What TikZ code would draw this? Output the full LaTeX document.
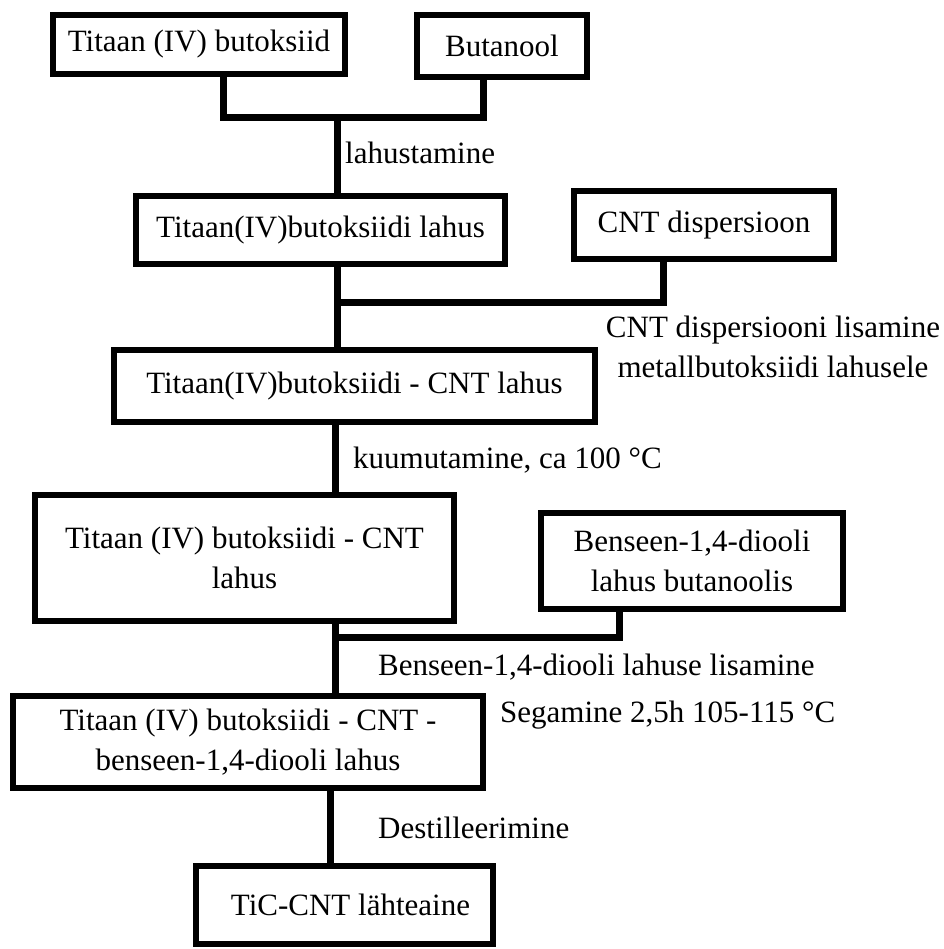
\documentclass[tikz,border=0pt]{standalone}
\usepackage{fontspec}
\setmainfont{Liberation Serif}
\usetikzlibrary{calc}

\begin{document}
\begin{tikzpicture}[x=1pt,y=-1pt,
  font=\fontsize{31}{40}\selectfont,
  box/.style={draw,line width=6pt,inner sep=0pt,align=center,fill=white,
    execute at begin node={\vspace*{9pt}}},
  link/.style={line width=7pt},
  step label/.style={anchor=west,inner sep=0pt}]
  \useasboundingbox (0,0) rectangle (943,949);
  \node[box,minimum width=292,minimum height=59] (tib) at (199,44.5) {Titaan (IV) butoksiid};
  \node[box,minimum width=170,minimum height=62] (buol) at (502,46) {Butanool};
  \node[box,minimum width=369,minimum height=68] (tibl) at (320.5,230) {Titaan(IV)butoksiidi lahus};
  \node[box,minimum width=260,minimum height=68] (cnt) at (704,225) {CNT dispersioon};
  \node[box,minimum width=481,minimum height=72] (tcl) at (354.5,386) {Titaan(IV)butoksiidi - CNT lahus};
  \node[box,minimum width=419,minimum height=126] (tcl2) at (244.5,558) {Titaan (IV) butoksiidi - CNT\\lahus};
  \node[box,minimum width=302,minimum height=96] (bdl) at (692,561) {Benseen-1,4-diooli\\lahus butanoolis};
  \node[box,minimum width=470,minimum height=92] (tcbl) at (248,742) {Titaan (IV) butoksiidi - CNT -\\benseen-1,4-diooli lahus};
  \node[box,minimum width=297,minimum height=78] (tic) at (344.5,905) {\hspace*{12pt}TiC-CNT l\"ahteaine};
  \coordinate (j1) at (337,118);
  \coordinate (j2) at (337,302);
  \coordinate (j3) at (335,637);
  \coordinate (j4) at (330,827);
  \draw[link] ([xshift=24]tib.south) |- (j1) -| ([xshift=-19]buol.south);
  \draw[link] (j1) -- (j1 |- tibl.north);
  \draw[link] (tibl.south -| j2) -- (j2 |- tcl.north);
  \draw[link] ([xshift=-41]cnt.south) |- (j2);
  \draw[link] (tcl.south -| j3) -- (j3 |- tcl2.north);
  \draw[link] (tcl2.south -| j3) -- (j3 |- tcbl.north);
  \draw[link] ([xshift=-73]bdl.south) |- (j3);
  \draw[link] (tcbl.south -| j4) -- (j4 |- tic.north);
  \node[step label] (l1) at (345,153) {lahustamine};
  \node[align=center,inner sep=0pt] (l2) at (773,346.5) {CNT dispersiooni lisamine\\metallbutoksiidi lahusele};
  \node[step label] (l3) at (353,460) {kuumutamine, ca 100 °C};
  \node[step label] (l4) at (378,667) {Benseen-1,4-diooli lahuse lisamine};
  \node[step label] (l5) at (500,715) {Segamine 2,5h 105-115 °C};
  \node[step label] (l6) at (378,828) {Destilleerimine};
\end{tikzpicture}
\end{document}
